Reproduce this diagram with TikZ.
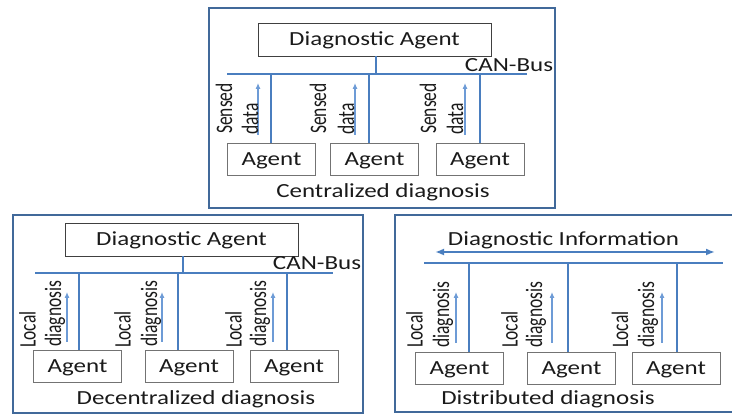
\documentclass[tikz,border=0pt]{standalone}
\usepackage{fontspec}
\setmainfont{Carlito}
\usetikzlibrary{arrows.meta}
\definecolor{frameblue}{HTML}{41699A}
\definecolor{busblue}{HTML}{4A7EBF}
\definecolor{arrblue}{HTML}{6D9BD6}
\definecolor{txt}{HTML}{1A1A1A}
\newcommand\hsx[1]{\scalebox{1.25}[1]{\fontsize{20}{24}\selectfont #1}}
\newcommand\vsx[1]{\scalebox{1}[1.35]{\fontsize{17.5}{20}\selectfont #1}}
\begin{document}
\begin{tikzpicture}[x=1pt,y=-1pt,
  panel/.style={draw=frameblue, line width=2pt},
  busline/.style={draw=busblue, line width=2.2pt},
  dropline/.style={draw=busblue, line width=2.6pt},
  thindrop/.style={draw=busblue, line width=1.7pt},
  uparrow/.style={draw=arrblue, line width=1.1pt, -{Latex[length=6pt,width=5pt]}},
  dblarrow/.style={draw=busblue, line width=2pt, {Latex[length=9pt,width=7pt]}-{Latex[length=9pt,width=7pt]}},
  agentbox/.style={draw=black!55, line width=0.9pt, minimum width=88pt, minimum height=32pt, inner sep=0pt, text=txt, text height=13pt, text depth=0pt},
  dabox/.style={draw=black!75, line width=0.9pt, minimum width=233pt, minimum height=33pt, inner sep=0pt, text=txt, text height=13pt, text depth=0pt},
  lbl/.style={inner sep=0pt, text=txt, anchor=base},
  vlbl/.style={inner sep=0pt, text=txt, rotate=90, anchor=west}]
\useasboundingbox (0,0) rectangle (732,414);

% ---------- panels ----------
\draw[panel] (209,8) rectangle (555,208);
\draw[panel] (13,215) rectangle (363,413);
\draw[panel] (734,215) -- (395,215) -- (395,412) -- (734,412);

% ================= Centralized =================
\node[dabox] (tda) at (374.5,39.5) {\hsx{Diagnostic Agent}};
\coordinate (tbL) at (227,74);
\coordinate (tbR) at (527,74);
\draw[busline] (tbL) -- (tbR);
\node[lbl] (tcan) at (509,72) {\hsx{CAN-Bus}};
\coordinate (td0) at (376,74);
\draw[dropline] (tda.south -| td0) -- (td0);

\node[agentbox] (ta1) at (271.5,159) {\hsx{Agent}};
\node[agentbox] (ta2) at (374.5,159) {\hsx{Agent}};
\node[agentbox] (ta3) at (480,159) {\hsx{Agent}};
\coordinate (td1) at (271,74);
\coordinate (td2) at (369,74);
\coordinate (td3) at (480,74);
\draw[dropline] (td1) -- (td1 |- ta1.north);
\draw[dropline] (td2) -- (td2 |- ta2.north);
\draw[dropline] (td3) -- (td3 |- ta3.north);

\coordinate (tas1) at (258,135); \coordinate (tae1) at (258,83);
\coordinate (tas2) at (355,135); \coordinate (tae2) at (355,83);
\coordinate (tas3) at (465,135); \coordinate (tae3) at (465,83);
\draw[uparrow] (tas1) -- (tae1);
\draw[uparrow] (tas2) -- (tae2);
\draw[uparrow] (tas3) -- (tae3);

\node[vlbl] (ts1) at (224,134) {\vsx{Sensed}};
\node[vlbl] (tt1) at (250,135) {\vsx{data}};
\node[vlbl] (ts2) at (318,134) {\vsx{Sensed}};
\node[vlbl] (tt2) at (346,135) {\vsx{data}};
\node[vlbl] (ts3) at (428,134) {\vsx{Sensed}};
\node[vlbl] (tt3) at (455,135) {\vsx{data}};

\node[lbl] (tcap) at (383,198) {\hsx{Centralized diagnosis}};

% ================= Decentralized =================
\node[dabox] (lda) at (181.5,239.5) {\hsx{Diagnostic Agent}};
\coordinate (lbL) at (35,273);
\coordinate (lbR) at (333,273);
\draw[busline] (lbL) -- (lbR);
\node[lbl] (lcan) at (317,270) {\hsx{CAN-Bus}};
\coordinate (ld0) at (183,273);
\draw[dropline] (lda.south -| ld0) -- (ld0);

\node[agentbox] (la1) at (77.5,366.5) {\hsx{Agent}};
\node[agentbox] (la2) at (189,366.5) {\hsx{Agent}};
\node[agentbox] (la3) at (294,366.5) {\hsx{Agent}};
\coordinate (ld1) at (79,273);
\coordinate (ld2) at (178,273);
\coordinate (ld3) at (287,273);
\draw[thindrop] (ld1) -- (ld1 |- la1.north);
\draw[thindrop] (ld2) -- (ld2 |- la2.north);
\draw[dropline] (ld3) -- (ld3 |- la3.north);

\coordinate (las1) at (67,342); \coordinate (lae1) at (67,292);
\coordinate (las2) at (162,342); \coordinate (lae2) at (162,292);
\coordinate (las3) at (273,342); \coordinate (lae3) at (273,292);
\draw[uparrow] (las1) -- (lae1);
\draw[uparrow] (las2) -- (lae2);
\draw[uparrow] (las3) -- (lae3);

\node[vlbl] (ll1) at (27.5,348) {\vsx{Local}};
\node[vlbl] (lg1) at (55,347) {\vsx{diagnosis}};
\node[vlbl] (ll2) at (122.5,348) {\vsx{Local}};
\node[vlbl] (lg2) at (151,347) {\vsx{diagnosis}};
\node[vlbl] (ll3) at (233.5,348) {\vsx{Local}};
\node[vlbl] (lg3) at (260,347) {\vsx{diagnosis}};

\node[lbl] (lcap) at (196,405) {\hsx{Decentralized diagnosis}};

% ================= Distributed =================
\node[lbl] (rinfo) at (563.5,246) {\hsx{Diagnostic Information}};
\coordinate (rdL) at (435,252);
\coordinate (rdR) at (715,252);
\draw[dblarrow] (rdL) -- (rdR);
\coordinate (rbL) at (424,263);
\coordinate (rbR) at (723,263);
\draw[busline] (rbL) -- (rbR);

\node[agentbox] (ra1) at (459.5,368) {\hsx{Agent}};
\node[agentbox] (ra2) at (571.5,368) {\hsx{Agent}};
\node[agentbox] (ra3) at (676,368) {\hsx{Agent}};
\coordinate (rd1) at (469,263);
\coordinate (rd2) at (568,263);
\coordinate (rd3) at (677,263);
\draw[thindrop] (rd1) -- (rd1 |- ra1.north);
\draw[thindrop] (rd2) -- (rd2 |- ra2.north);
\draw[thindrop] (rd3) -- (rd3 |- ra3.north);

\coordinate (ras1) at (456,343); \coordinate (rae1) at (456,292);
\coordinate (ras2) at (552,343); \coordinate (rae2) at (552,292);
\coordinate (ras3) at (662,343); \coordinate (rae3) at (662,292);
\draw[uparrow] (ras1) -- (rae1);
\draw[uparrow] (ras2) -- (rae2);
\draw[uparrow] (ras3) -- (rae3);

\node[vlbl] (rl1) at (414.5,348) {\vsx{Local}};
\node[vlbl] (rg1) at (443,348) {\vsx{diagnosis}};
\node[vlbl] (rl2) at (509.5,348) {\vsx{Local}};
\node[vlbl] (rg2) at (536,348) {\vsx{diagnosis}};
\node[vlbl] (rl3) at (620,348) {\vsx{Local}};
\node[vlbl] (rg3) at (648,348) {\vsx{diagnosis}};

\node[lbl] (rcap) at (548,405) {\hsx{Distributed diagnosis}};
\end{tikzpicture}
\end{document}
